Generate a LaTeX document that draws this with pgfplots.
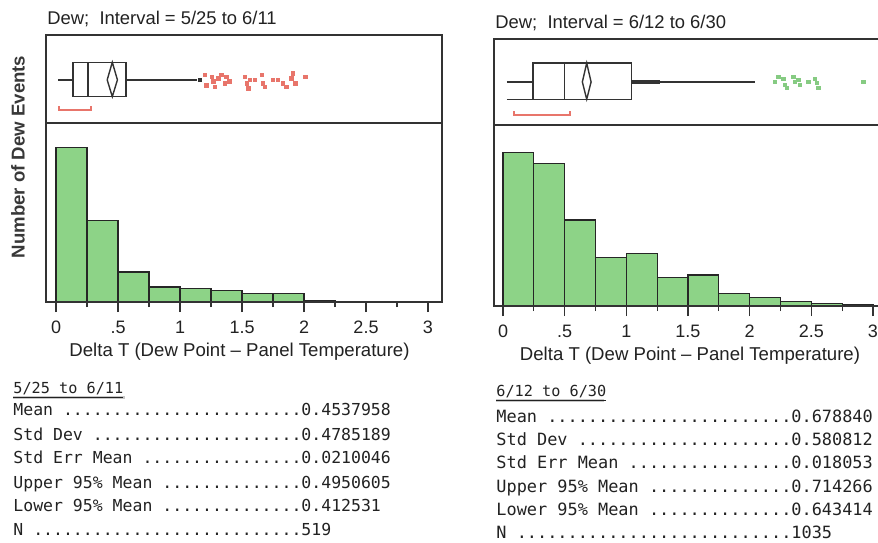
\documentclass[border=0pt]{standalone}
\usepackage{pgfplots}
\pgfplotsset{compat=1.18}
\usepackage{fontspec}
\setmainfont{Liberation Sans}
\setmonofont{DejaVu Sans Mono}

\definecolor{bargreen}{HTML}{8DD387}
\definecolor{outred}{HTML}{E8756B}
\definecolor{outgreen}{HTML}{86CB82}
\definecolor{frame}{HTML}{333333}
\definecolor{ink}{HTML}{222222}

\pgfplotsset{
  panel/.style={scale only axis, anchor=north west, axis on top,
    axis line style={frame, line width=0.8pt}},
  boxpanel/.style={panel, ymin=0, ymax=1, xtick=\empty, ytick=\empty},
  histpanel/.style={panel, ymin=0, ytick=\empty,
    xtick={0,0.5,1,1.5,2,2.5,3}, xticklabels={0,.5,1,1.5,2,2.5,3},
    minor xtick={0.25,0.75,1.25,1.75,2.25,2.75},
    xtick pos=left, tick align=outside,
    major tick length=5pt, minor tick length=2.5pt,
    tick style={frame, line width=0.6pt},
    xticklabel style={font=\fontsize{9}{10}\selectfont, text=ink, yshift=-1pt}},
  boxline/.style={frame, line width=0.7pt, mark=none},
  bracket/.style={outred, line width=1pt, mark=none},
  bars/.style={ybar interval, fill=bargreen, draw=black!85, line width=0.6pt}
}

\newcommand\lead[1]{\foreach\i in {1,...,#1}{.}}
% #1 position, #2 font size, #3 label, #4 number of leader dots, #5 value
\newcommand\stat[5]{\node[anchor=base west, inner sep=0pt, text=ink,
  font=\ttfamily\fontsize{#2}{10}\selectfont] at (#1) {#3 \lead{#4}#5};}

\begin{document}
\begin{tikzpicture}
\clip (0,0) rectangle (439pt,-271pt);
\fill[white] (0,0) rectangle (439pt,-271pt);

% ---------- left: 5/25 to 6/11 ----------
\begin{axis}[boxpanel, at={(23pt,-17.5pt)}, width=198pt, height=44pt,
  xmin=-0.081, xmax=3.113]
  \addplot[boxline] coordinates {(0.016,0.49) (0.137,0.49)};
  \addplot[boxline] coordinates {(0.137,0.30) (0.565,0.30) (0.565,0.69) (0.137,0.69) (0.137,0.30)};
  \addplot[boxline] coordinates {(0.258,0.30) (0.258,0.69)};
  \addplot[boxline] coordinates {(0.4125,0.49) (0.4538,0.69) (0.4951,0.49) (0.4538,0.30) (0.4125,0.49)};
  \addplot[boxline] coordinates {(0.565,0.49) (1.137,0.49)};
  \addplot[bracket] coordinates {(0.025,0.19) (0.025,0.15) (0.28,0.15) (0.28,0.19)};
  \addplot[only marks, mark=square*, mark size=0.7pt, color=frame] coordinates {(1.16,0.49)};
  \addplot[only marks, mark=square*, mark size=0.9pt, color=outred] coordinates {
    (1.20,0.545) (1.215,0.43) (1.256,0.526) (1.27,0.47) (1.28,0.41)
    (1.31,0.51) (1.336,0.545) (1.363,0.45) (1.376,0.526) (1.40,0.47)
    (1.524,0.526) (1.538,0.45) (1.55,0.39) (1.565,0.49) (1.605,0.49)
    (1.66,0.545) (1.67,0.45) (1.685,0.41) (1.75,0.49) (1.79,0.49)
    (1.83,0.45) (1.86,0.41) (1.90,0.51) (1.91,0.565) (1.93,0.45) (2.01,0.526)};
\end{axis}

\begin{axis}[histpanel, at={(23pt,-61.5pt)}, width=198pt, height=89.5pt,
  xmin=-0.081, xmax=3.113, ymax=286]
  \addplot[bars] coordinates {
    (0,247) (0.25,130) (0.5,48) (0.75,24) (1,21) (1.25,19)
    (1.5,14) (1.75,13) (2,3) (2.25,3)};
\end{axis}

% ---------- right: 6/12 to 6/30 ----------
\begin{axis}[boxpanel, at={(247pt,-19.5pt)}, width=197pt, height=43pt,
  xmin=-0.073, xmax=3.122]
  \addplot[boxline] coordinates {(0.032,0.50) (0.243,0.50)};
  \addplot[boxline] coordinates {(0.032,0.30) (0.243,0.30)};
  \addplot[boxline] coordinates {(0.243,0.30) (1.04,0.30) (1.04,0.72) (0.243,0.72) (0.243,0.30)};
  \addplot[boxline] coordinates {(0.50,0.30) (0.50,0.72)};
  \addplot[boxline] coordinates {(0.6434,0.50) (0.6788,0.72) (0.7143,0.50) (0.6788,0.30) (0.6434,0.50)};
  \addplot[frame, line width=1.6pt, mark=none] coordinates {(1.04,0.50) (1.273,0.50)};
  \addplot[boxline] coordinates {(1.273,0.50) (2.04,0.50)};
  \addplot[bracket] coordinates {(0.09,0.16) (0.09,0.12) (0.54,0.12) (0.54,0.16)};
  \addplot[only marks, mark=square*, mark size=0.8pt, color=outgreen] coordinates {
    (2.206,0.50) (2.233,0.56) (2.273,0.54) (2.287,0.465) (2.30,0.43)
    (2.354,0.56) (2.368,0.50) (2.395,0.52) (2.409,0.465) (2.476,0.50)
    (2.53,0.54) (2.544,0.485) (2.557,0.43) (2.922,0.50)};
\end{axis}

\begin{axis}[histpanel, at={(247pt,-62.5pt)}, width=197pt, height=90.5pt,
  xmin=-0.073, xmax=3.122, ymax=326]
  \addplot[bars] coordinates {
    (0,277) (0.25,257) (0.5,155) (0.75,88) (1,95) (1.25,52)
    (1.5,56) (1.75,23) (2,16) (2.25,8) (2.5,5) (2.75,3) (3,3)};
\end{axis}

% ---------- titles and labels ----------
\node[anchor=base west, inner sep=0pt, text=ink, font=\fontsize{9.2}{11}\selectfont]
  at (23.5pt,-12pt) {Dew;\ \ Interval = 5/25 to 6/11};
\node[anchor=base west, inner sep=0pt, text=ink, font=\fontsize{9.2}{11}\selectfont]
  at (247.5pt,-14pt) {Dew;\ \ Interval = 6/12 to 6/30};
\node[rotate=90, inner sep=0pt, text=black!78, font=\bfseries\fontsize{9.3}{11}\selectfont]
  at (9pt,-78.5pt) {Number of Dew Events};
\node[inner sep=0pt, text=ink, font=\fontsize{9.3}{11}\selectfont]
  at (119.75pt,-176pt) {Delta T (Dew Point -- Panel Temperature)};
\node[inner sep=0pt, text=ink, font=\fontsize{9.3}{11}\selectfont]
  at (345pt,-178pt) {Delta T (Dew Point -- Panel Temperature)};

% ---------- summary statistics ----------
\draw[black!22, line width=1.6pt] (6.5pt,-198.6pt) -- (62.5pt,-198.6pt);
\node[anchor=base west, inner sep=0pt, text=ink, font=\ttfamily\fontsize{7.6}{10}\selectfont]
  at (6.5pt,-196.5pt) {\underline{5/25 to 6/11}};
\stat{6.5pt,-207.5pt}{8.25}{Mean}{24}{0.4537958}
\stat{6.5pt,-220pt}{8.25}{Std Dev}{21}{0.4785189}
\stat{6.5pt,-231.5pt}{8.25}{Std Err Mean}{16}{0.0210046}
\stat{6.5pt,-244pt}{8.25}{Upper 95\% Mean}{14}{0.4950605}
\stat{6.5pt,-255.5pt}{8.25}{Lower 95\% Mean}{14}{0.412531}
\stat{6.5pt,-267.5pt}{8.25}{N}{27}{519}

\draw[black!22, line width=1.6pt] (248pt,-200.1pt) -- (302pt,-200.1pt);
\node[anchor=base west, inner sep=0pt, text=ink, font=\ttfamily\fontsize{7.6}{10}\selectfont]
  at (248pt,-198pt) {\underline{6/12 to 6/30}};
\stat{248pt,-211pt}{8.45}{Mean}{24}{0.678840}
\stat{248pt,-222.5pt}{8.45}{Std Dev}{21}{0.580812}
\stat{248pt,-234pt}{8.45}{Std Err Mean}{16}{0.018053}
\stat{248pt,-246pt}{8.45}{Upper 95\% Mean}{14}{0.714266}
\stat{248pt,-257.5pt}{8.45}{Lower 95\% Mean}{14}{0.643414}
\stat{248pt,-269pt}{8.45}{N}{27}{1035}
\end{tikzpicture}
\end{document}
